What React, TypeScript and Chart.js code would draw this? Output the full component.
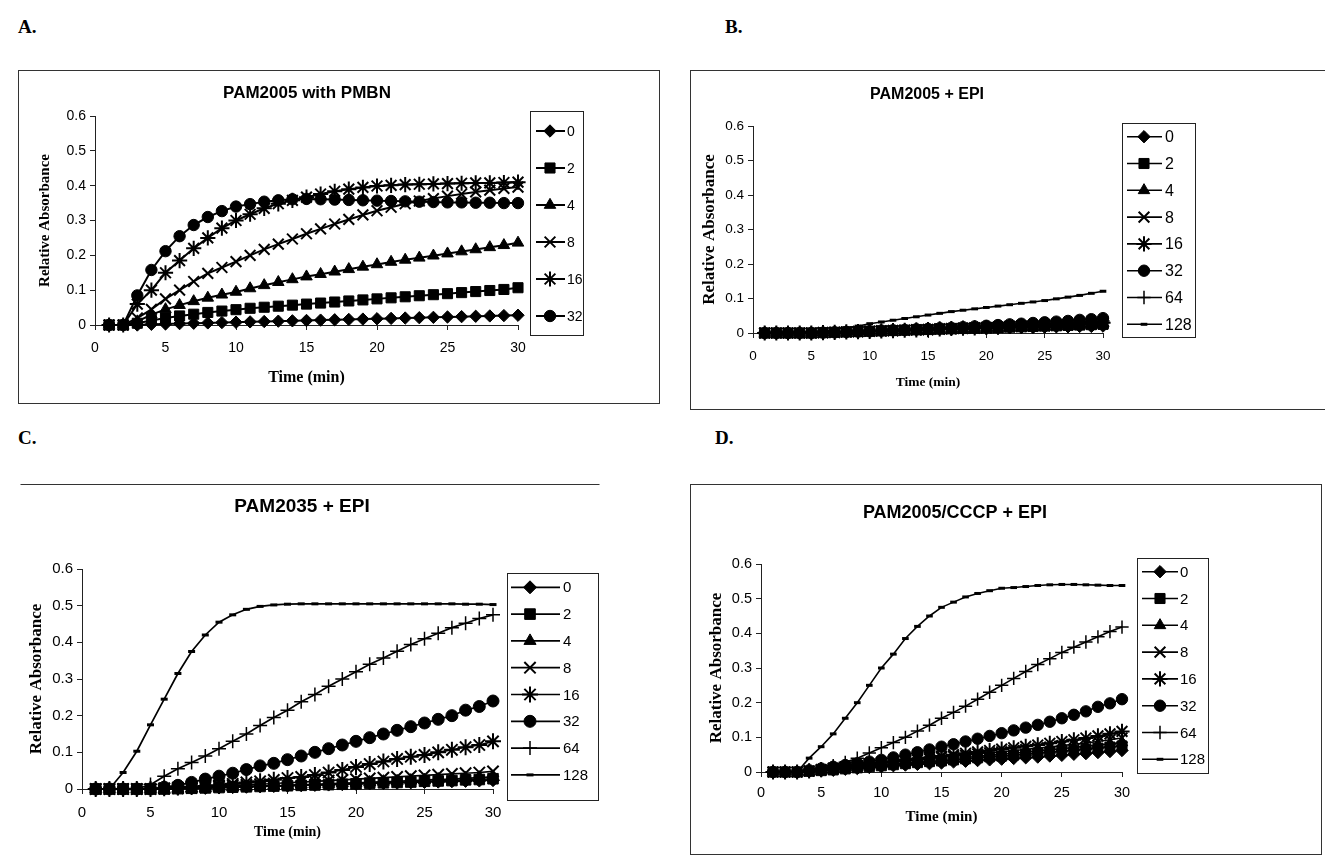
import React, { useEffect, useRef } from 'react';
import { Chart, registerables } from 'chart.js';
import { drawPoint } from 'chart.js/helpers';

Chart.register(...registerables);

// ---------------- DATA ----------------
const TIME = [1, 2, 3, 4, 5, 6, 7, 8, 9, 10, 11, 12, 13, 14, 15, 16, 17, 18, 19, 20, 21, 22, 23, 24, 25, 26, 27, 28, 29, 30];
const X_TICK_STEP = 5;
const Y_TICK_STEP = 0.1;
const X_MAX = 30;
const Y_MAX = 0.6;

const LABELS_A = ['0', '2', '4', '8', '16', '32'];
const LABELS_ALL = ['0', '2', '4', '8', '16', '32', '64', '128'];

// Panel A: PAM2005 with PMBN
const A_0 = [0, 0, 0, 0.002, 0.003, 0.004, 0.005, 0.006, 0.007, 0.008, 0.009, 0.01, 0.011, 0.012, 0.013, 0.014, 0.015, 0.016, 0.017, 0.018, 0.019, 0.02, 0.021, 0.022, 0.023, 0.024, 0.025, 0.026, 0.027, 0.028];
const A_2 = [0, 0, 0.005, 0.013, 0.02, 0.026, 0.031, 0.036, 0.04, 0.044, 0.048, 0.051, 0.054, 0.057, 0.06, 0.063, 0.066, 0.069, 0.072, 0.075, 0.078, 0.081, 0.084, 0.087, 0.09, 0.093, 0.096, 0.099, 0.102, 0.107];
const A_4 = [0, 0, 0.01, 0.03, 0.045, 0.057, 0.068, 0.078, 0.087, 0.095, 0.105, 0.114, 0.123, 0.131, 0.139, 0.146, 0.153, 0.16, 0.167, 0.174, 0.181, 0.187, 0.193, 0.199, 0.205, 0.211, 0.217, 0.223, 0.229, 0.236];
const A_8 = [0, 0, 0.02, 0.045, 0.075, 0.1, 0.125, 0.148, 0.165, 0.182, 0.2, 0.217, 0.232, 0.247, 0.262, 0.276, 0.29, 0.303, 0.316, 0.328, 0.338, 0.348, 0.356, 0.363, 0.37, 0.376, 0.382, 0.387, 0.392, 0.396];
const A_16 = [0, 0, 0.06, 0.1, 0.15, 0.185, 0.22, 0.25, 0.278, 0.3, 0.318, 0.335, 0.348, 0.358, 0.367, 0.376, 0.384, 0.39, 0.395, 0.399, 0.401, 0.403, 0.404, 0.405, 0.406, 0.407, 0.408, 0.408, 0.409, 0.41];
const A_32 = [0, 0, 0.085, 0.158, 0.212, 0.255, 0.287, 0.31, 0.327, 0.34, 0.347, 0.354, 0.358, 0.361, 0.362, 0.361, 0.36, 0.359, 0.358, 0.357, 0.356, 0.355, 0.354, 0.353, 0.352, 0.352, 0.351, 0.351, 0.35, 0.35];

// Panel B: PAM2005 + EPI
const B_0 = [0, 0, 0, 0, 0, 0.001, 0.002, 0.003, 0.004, 0.005, 0.006, 0.007, 0.008, 0.009, 0.01, 0.011, 0.011, 0.012, 0.013, 0.014, 0.014, 0.015, 0.016, 0.016, 0.017, 0.018, 0.018, 0.019, 0.019, 0.02];
const B_2 = [0, 0, 0, 0, 0, 0.001, 0.002, 0.003, 0.004, 0.005, 0.006, 0.007, 0.008, 0.009, 0.01, 0.011, 0.012, 0.013, 0.014, 0.015, 0.016, 0.017, 0.018, 0.019, 0.02, 0.021, 0.022, 0.023, 0.024, 0.025];
const B_4 = [0, 0, 0, 0, 0, 0.001, 0.002, 0.003, 0.004, 0.005, 0.006, 0.007, 0.008, 0.009, 0.01, 0.011, 0.012, 0.013, 0.014, 0.015, 0.016, 0.017, 0.018, 0.019, 0.02, 0.021, 0.022, 0.024, 0.025, 0.027];
const B_8 = [0, 0, 0, 0, 0, 0.001, 0.002, 0.003, 0.004, 0.005, 0.006, 0.007, 0.008, 0.009, 0.01, 0.011, 0.012, 0.013, 0.014, 0.015, 0.016, 0.018, 0.019, 0.02, 0.021, 0.022, 0.024, 0.025, 0.026, 0.028];
const B_16 = [0, 0, 0, 0, 0, 0.001, 0.002, 0.003, 0.004, 0.005, 0.006, 0.007, 0.008, 0.009, 0.01, 0.012, 0.013, 0.014, 0.015, 0.016, 0.017, 0.019, 0.02, 0.021, 0.022, 0.024, 0.025, 0.027, 0.028, 0.03];
const B_32 = [0, 0, 0, 0, 0, 0.001, 0.002, 0.003, 0.004, 0.005, 0.007, 0.008, 0.009, 0.011, 0.012, 0.014, 0.015, 0.017, 0.019, 0.021, 0.023, 0.025, 0.027, 0.029, 0.031, 0.033, 0.035, 0.038, 0.04, 0.043];
const B_64 = [0, 0, 0, 0, 0, 0.001, 0.002, 0.003, 0.004, 0.005, 0.006, 0.007, 0.009, 0.01, 0.011, 0.012, 0.014, 0.015, 0.016, 0.018, 0.019, 0.021, 0.022, 0.024, 0.025, 0.027, 0.029, 0.031, 0.033, 0.035];
const B_128 = [0.002, 0.002, 0.003, 0.003, 0.004, 0.005, 0.01, 0.015, 0.02, 0.027, 0.032, 0.037, 0.042, 0.047, 0.052, 0.057, 0.062, 0.066, 0.07, 0.074, 0.078, 0.082, 0.086, 0.09, 0.094, 0.099, 0.104, 0.109, 0.115, 0.121];

// Panel C: PAM2035 + EPI
const C_0 = [0, 0, 0, 0, 0, 0, 0.001, 0.002, 0.003, 0.004, 0.005, 0.006, 0.007, 0.008, 0.009, 0.01, 0.011, 0.012, 0.013, 0.014, 0.015, 0.016, 0.017, 0.018, 0.019, 0.02, 0.021, 0.022, 0.023, 0.024];
const C_2 = [0, 0, 0, 0, 0, 0, 0.001, 0.002, 0.003, 0.004, 0.005, 0.006, 0.007, 0.008, 0.009, 0.01, 0.011, 0.012, 0.013, 0.014, 0.016, 0.017, 0.018, 0.019, 0.021, 0.022, 0.023, 0.025, 0.026, 0.028];
const C_4 = [0, 0, 0, 0, 0, 0, 0.001, 0.002, 0.003, 0.004, 0.005, 0.007, 0.008, 0.009, 0.01, 0.012, 0.013, 0.014, 0.016, 0.017, 0.018, 0.02, 0.021, 0.023, 0.024, 0.026, 0.027, 0.029, 0.031, 0.033];
const C_8 = [0, 0, 0, 0, 0, 0.001, 0.002, 0.003, 0.005, 0.007, 0.009, 0.011, 0.013, 0.015, 0.017, 0.019, 0.021, 0.023, 0.025, 0.027, 0.029, 0.031, 0.033, 0.035, 0.037, 0.039, 0.041, 0.043, 0.045, 0.048];
const C_16 = [0, 0, 0, 0, 0, 0.002, 0.004, 0.006, 0.008, 0.01, 0.014, 0.018, 0.021, 0.025, 0.03, 0.033, 0.038, 0.045, 0.052, 0.06, 0.068, 0.075, 0.082, 0.088, 0.093, 0.1, 0.107, 0.114, 0.12, 0.13];
const C_32 = [0, 0, 0, 0, 0, 0.005, 0.01, 0.018, 0.027, 0.035, 0.043, 0.053, 0.063, 0.07, 0.08, 0.09, 0.1, 0.11, 0.12, 0.13, 0.14, 0.15, 0.16, 0.17, 0.18, 0.19, 0.2, 0.215, 0.225, 0.24];
const C_64 = [0, 0, 0, 0, 0.012, 0.035, 0.055, 0.072, 0.09, 0.11, 0.13, 0.15, 0.173, 0.195, 0.215, 0.238, 0.258, 0.28, 0.3, 0.32, 0.34, 0.357, 0.376, 0.394, 0.41, 0.425, 0.44, 0.452, 0.465, 0.475];
const C_128 = [0, 0, 0.045, 0.103, 0.175, 0.245, 0.315, 0.375, 0.42, 0.455, 0.475, 0.49, 0.498, 0.502, 0.504, 0.505, 0.505, 0.505, 0.505, 0.505, 0.505, 0.505, 0.505, 0.505, 0.505, 0.505, 0.505, 0.504, 0.504, 0.503];

// Panel D: PAM2005/CCCP + EPI
const D_0 = [0, 0, 0, 0.001, 0.003, 0.005, 0.008, 0.01, 0.013, 0.015, 0.018, 0.02, 0.022, 0.024, 0.026, 0.029, 0.031, 0.033, 0.035, 0.037, 0.039, 0.041, 0.043, 0.046, 0.048, 0.051, 0.053, 0.056, 0.059, 0.062];
const D_2 = [0, 0, 0, 0.002, 0.004, 0.006, 0.009, 0.012, 0.015, 0.018, 0.021, 0.024, 0.027, 0.03, 0.032, 0.035, 0.038, 0.041, 0.044, 0.046, 0.049, 0.052, 0.055, 0.058, 0.06, 0.063, 0.066, 0.069, 0.072, 0.075];
const D_4 = [0, 0, 0, 0.002, 0.005, 0.008, 0.011, 0.014, 0.018, 0.021, 0.024, 0.027, 0.03, 0.033, 0.036, 0.039, 0.042, 0.045, 0.048, 0.051, 0.054, 0.057, 0.061, 0.064, 0.067, 0.071, 0.074, 0.078, 0.081, 0.085];
const D_8 = [0, 0, 0, 0.003, 0.006, 0.009, 0.013, 0.017, 0.021, 0.025, 0.028, 0.032, 0.035, 0.038, 0.042, 0.045, 0.048, 0.052, 0.055, 0.058, 0.062, 0.065, 0.069, 0.072, 0.076, 0.08, 0.084, 0.088, 0.093, 0.098];
const D_16 = [0, 0, 0, 0.003, 0.007, 0.011, 0.015, 0.019, 0.023, 0.027, 0.031, 0.035, 0.039, 0.042, 0.046, 0.05, 0.054, 0.058, 0.062, 0.066, 0.07, 0.074, 0.078, 0.083, 0.088, 0.093, 0.098, 0.104, 0.11, 0.117];
const D_32 = [0, 0, 0, 0.005, 0.01, 0.015, 0.02, 0.025, 0.03, 0.035, 0.042, 0.05, 0.057, 0.065, 0.073, 0.08, 0.088, 0.096, 0.104, 0.112, 0.12, 0.128, 0.136, 0.145, 0.155, 0.165, 0.175, 0.188, 0.198, 0.21];
const D_64 = [0, 0, 0, 0.005, 0.01, 0.018, 0.028, 0.04, 0.055, 0.07, 0.085, 0.1, 0.118, 0.135, 0.155, 0.172, 0.19, 0.21, 0.23, 0.25, 0.27, 0.29, 0.31, 0.327, 0.345, 0.36, 0.375, 0.39, 0.405, 0.418];
const D_128 = [0, 0, 0, 0.04, 0.073, 0.11, 0.155, 0.2, 0.25, 0.3, 0.34, 0.385, 0.42, 0.45, 0.475, 0.49, 0.505, 0.515, 0.523, 0.53, 0.532, 0.535, 0.538, 0.54, 0.541, 0.541, 0.54, 0.539, 0.538, 0.538];

// ---------------- STYLES ----------------
const MARKERS: Record<string, { style: string; r: number; bw: number }> = {
  '0': { style: 'rectRot', r: 6.5, bw: 1 },
  '2': { style: 'rect', r: 7.5, bw: 1 },
  '4': { style: 'triangle', r: 7, bw: 1 },
  '8': { style: 'crossRot', r: 8, bw: 2 },
  '16': { style: 'star', r: 8, bw: 2 },
  '32': { style: 'circle', r: 6, bw: 1 },
  '64': { style: 'cross', r: 7, bw: 1.5 },
  '128': { style: 'line', r: 3.5, bw: 3 },
};

const SANS = '"Liberation Sans", Arial, sans-serif';
const SERIF = '"Liberation Serif", "Times New Roman", serif';

type Panel = {
  key: string;
  box: [number, number, number, number];
  borders: string;
  plot: [number, number, number, number];
  title: string;
  titleSize: number;
  titleAt: [number, number];
  yTitleX: number;
  yTitleSize: number;
  xTitleY: number;
  xTitleSize: number;
  tickSize: number;
  xTickCenterY: number;
  legendBox: [number, number, number, number];
  legendFirstY: number;
  legendStep: number;
  legendLine: [number, number];
  legendMarkerX: number;
  legendTextX: number;
  legendSize: number;
  markerScale: number;
  lineWidth: number;
  labels: string[];
  series: number[][];
};

const PANELS: Panel[] = [
  {
    key: 'A', box: [18, 70, 642, 334], borders: 'all', plot: [95, 518, 116, 325],
    title: 'PAM2005 with PMBN', titleSize: 17, titleAt: [307, 93],
    yTitleX: 45, yTitleSize: 15, xTitleY: 378, xTitleSize: 16, tickSize: 14, xTickCenterY: 348,
    legendBox: [530, 111, 583, 335], legendFirstY: 131, legendStep: 37, legendLine: [536, 565],
    legendMarkerX: 550, legendTextX: 567, legendSize: 14, markerScale: 0.95, lineWidth: 2,
    labels: LABELS_A, series: [A_0, A_2, A_4, A_8, A_16, A_32],
  },
  {
    key: 'B', box: [690, 70, 640, 340], borders: 'all', plot: [753, 1103, 126, 333],
    title: 'PAM2005 + EPI', titleSize: 16, titleAt: [927, 95],
    yTitleX: 710, yTitleSize: 17, xTitleY: 383, xTitleSize: 13.5, tickSize: 13.5, xTickCenterY: 356,
    legendBox: [1122, 123, 1195, 337], legendFirstY: 136.7, legendStep: 26.8, legendLine: [1127, 1162],
    legendMarkerX: 1144, legendTextX: 1165, legendSize: 16, markerScale: 0.95, lineWidth: 1.6,
    labels: LABELS_ALL, series: [B_0, B_2, B_4, B_8, B_16, B_32, B_64, B_128],
  },
  {
    key: 'C', box: [20, 484, 580, 380], borders: 'top', plot: [82, 493, 569, 789],
    title: 'PAM2035 + EPI', titleSize: 19, titleAt: [302, 507],
    yTitleX: 37, yTitleSize: 17, xTitleY: 832, xTitleSize: 14, tickSize: 15, xTickCenterY: 813,
    legendBox: [507, 573, 598, 800], legendFirstY: 587.3, legendStep: 26.8, legendLine: [511, 560],
    legendMarkerX: 530, legendTextX: 563, legendSize: 15, markerScale: 1, lineWidth: 1.7,
    labels: LABELS_ALL, series: [C_0, C_2, C_4, C_8, C_16, C_32, C_64, C_128],
  },
  {
    key: 'D', box: [690, 484, 632, 371], borders: 'all', plot: [761, 1122, 564, 772],
    title: 'PAM2005/CCCP + EPI', titleSize: 18, titleAt: [955, 513],
    yTitleX: 717, yTitleSize: 17, xTitleY: 817, xTitleSize: 15, tickSize: 14.5, xTickCenterY: 793,
    legendBox: [1137, 558, 1208, 773], legendFirstY: 571.7, legendStep: 26.8, legendLine: [1142, 1178],
    legendMarkerX: 1160, legendTextX: 1180, legendSize: 15, markerScale: 0.95, lineWidth: 1.6,
    labels: LABELS_ALL, series: [D_0, D_2, D_4, D_8, D_16, D_32, D_64, D_128],
  },
];

const LETTERS: { t: string; x: number; y: number }[] = [
  { t: 'A.', x: 18, y: 17 },
  { t: 'B.', x: 725, y: 17 },
  { t: 'C.', x: 18, y: 428 },
  { t: 'D.', x: 715, y: 428 },
];

function ChartPanel({ p }: { p: Panel }) {
  const ref = useRef<HTMLCanvasElement>(null);
  const [bl, bt, bw, bh] = p.box;
  const cw = bw - 2;
  const ch = bh - 2;
  const ox = bl + 1;
  const oy = bt + 1;

  useEffect(() => {
    const L = p.plot[0] - ox;
    const R = p.plot[1] - ox;
    const T = p.plot[2] - oy;
    const B = p.plot[3] - oy;
    const yLH = p.yTitleSize * 1.2;
    const xLH = p.xTitleSize * 1.2;
    const tickLH = p.tickSize * 1.2;
    const tickLen = 5;

    const overlay = {
      id: 'overlay' + p.key,
      afterDraw(chart: any) {
        const ctx: CanvasRenderingContext2D = chart.ctx;
        ctx.save();
        ctx.fillStyle = '#000';
        ctx.textAlign = 'center';
        ctx.textBaseline = 'middle';
        ctx.font = `bold ${p.titleSize}px ${SANS}`;
        ctx.fillText(p.title, p.titleAt[0] - ox, p.titleAt[1] - oy);

        const [l, t, r, b] = p.legendBox;
        ctx.fillStyle = '#fff';
        ctx.fillRect(l - ox, t - oy, r - l, b - t);
        ctx.strokeStyle = '#222';
        ctx.lineWidth = 1;
        ctx.strokeRect(l - ox + 0.5, t - oy + 0.5, r - l, b - t);

        chart.data.datasets.forEach((ds: any, i: number) => {
          const y = p.legendFirstY + i * p.legendStep - oy;
          ctx.strokeStyle = '#000';
          ctx.fillStyle = '#000';
          ctx.lineWidth = p.lineWidth;
          ctx.beginPath();
          ctx.moveTo(p.legendLine[0] - ox, y);
          ctx.lineTo(p.legendLine[1] - ox, y);
          ctx.stroke();
          ctx.lineWidth = ds.pointBorderWidth;
          drawPoint(ctx, {
            pointStyle: ds.pointStyle,
            radius: ds.pointRadius,
            rotation: 0,
            borderWidth: ds.pointBorderWidth,
          } as any, p.legendMarkerX - ox, y);
          ctx.fillStyle = '#000';
          ctx.textAlign = 'left';
          ctx.textBaseline = 'middle';
          ctx.font = `${p.legendSize}px ${SANS}`;
          ctx.fillText(ds.label, p.legendTextX - ox, y + 1);
        });
        ctx.restore();
      },
    };

    const datasets = p.labels.map((lab, i) => {
      const m = MARKERS[lab];
      return {
        label: lab,
        data: p.series[i].map((v, j) => ({ x: TIME[j], y: v })),
        borderColor: '#000',
        backgroundColor: '#000',
        borderWidth: p.lineWidth,
        pointStyle: m.style,
        pointRadius: m.r * p.markerScale,
        pointBorderWidth: m.bw,
        pointBackgroundColor: '#000',
        pointBorderColor: '#000',
        tension: 0,
        clip: false,
      };
    });

    const chart = new Chart(ref.current as HTMLCanvasElement, {
      type: 'line',
      data: { datasets } as any,
      options: {
        animation: false,
        responsive: false,
        maintainAspectRatio: false,
        events: [],
        layout: { padding: { left: 0, top: T, right: cw - R, bottom: 0 } },
        plugins: {
          legend: { display: false },
          title: { display: false },
          tooltip: { enabled: false },
        },
        scales: {
          x: {
            type: 'linear',
            min: 0,
            max: X_MAX,
            ticks: {
              stepSize: X_TICK_STEP,
              color: '#000',
              font: { family: SANS, size: p.tickSize },
              padding: p.xTickCenterY - p.plot[3] - tickLen - tickLH / 2,
              maxRotation: 0,
            },
            grid: { display: true, drawOnChartArea: false, drawTicks: true, tickLength: tickLen, color: '#222' },
            border: { display: true, color: '#222', width: 1 },
            title: {
              display: true,
              text: 'Time (min)',
              color: '#000',
              font: { family: SERIF, weight: 'bold', size: p.xTitleSize },
              padding: { top: 0, bottom: ch - (p.xTitleY - oy) - xLH / 2 },
            },
            afterFit: (s: any) => { s.height = ch - B; },
          },
          y: {
            type: 'linear',
            min: 0,
            max: Y_MAX,
            ticks: {
              stepSize: Y_TICK_STEP,
              color: '#000',
              font: { family: SANS, size: p.tickSize },
              padding: 4,
            },
            grid: { display: true, drawOnChartArea: false, drawTicks: true, tickLength: tickLen, color: '#222' },
            border: { display: true, color: '#222', width: 1 },
            title: {
              display: true,
              text: 'Relative Absorbance',
              color: '#000',
              font: { family: SERIF, weight: 'bold', size: p.yTitleSize },
              padding: { top: (p.yTitleX - ox) - yLH / 2, bottom: 0 },
            },
            afterFit: (s: any) => { s.width = L; },
          },
        },
      } as any,
      plugins: [overlay],
    });
    return () => chart.destroy();
  }, []);

  const bc = '1px solid #333';
  const borderStyle: React.CSSProperties =
    p.borders === 'all'
      ? { border: bc }
      : { borderTop: bc, borderLeft: '1px solid transparent', borderRight: '1px solid transparent', borderBottom: '1px solid transparent' };

  return (
    <div
      style={{
        position: 'absolute',
        left: bl,
        top: bt,
        width: bw - 2,
        height: bh - 2,
        ...borderStyle,
      }}
    >
      <canvas ref={ref} width={cw} height={ch} style={{ display: 'block', width: cw, height: ch }} />
    </div>
  );
}

export default function App() {
  return (
    <div
      style={{
        position: 'absolute',
        left: 0,
        top: 0,
        width: 1325,
        height: 857,
        overflow: 'hidden',
        background: '#fff',
      }}
    >
      {LETTERS.map((l) => (
        <div
          key={l.t}
          style={{
            position: 'absolute',
            left: l.x,
            top: l.y,
            fontFamily: SERIF,
            fontWeight: 'bold',
            fontSize: 19,
            lineHeight: '20px',
            color: '#000',
          }}
        >
          {l.t}
        </div>
      ))}
      {PANELS.map((p) => (
        <ChartPanel key={p.key} p={p} />
      ))}
    </div>
  );
}
